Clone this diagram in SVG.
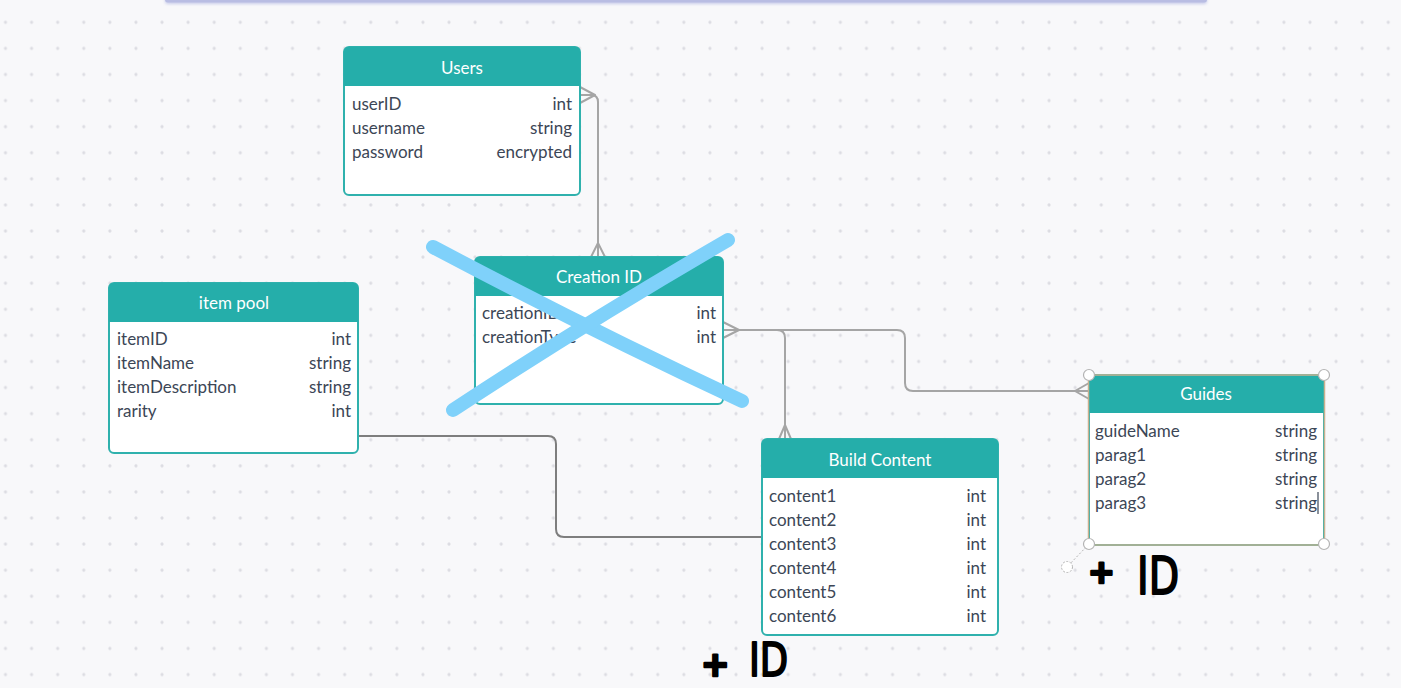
<svg xmlns="http://www.w3.org/2000/svg" width="1401" height="688" viewBox="0 0 1401 688">
  <defs>
    <pattern id="dots" x="5.5" y="22.3" width="26.09" height="26.09" patternUnits="userSpaceOnUse">
      <circle cx="0" cy="0" r="1.6" fill="#dcdce2"/>
      <circle cx="26.09" cy="0" r="1.6" fill="#dcdce2"/>
      <circle cx="0" cy="26.09" r="1.6" fill="#dcdce2"/>
      <circle cx="26.09" cy="26.09" r="1.6" fill="#dcdce2"/>
    </pattern>
    <filter id="barShadow" x="-5%" y="-100%" width="110%" height="400%">
      <feGaussianBlur stdDeviation="1.5"/>
    </filter>
  </defs>
  <style>
    .frame { fill: #ffffff; stroke: #2fb1ad; stroke-width: 2; }
    .head { fill: #25aeaa; }
    .title { font-family: Lato, "Open Sans", sans-serif; font-size: 17px; fill: #ffffff; text-anchor: middle; }
    .field { font-family: Lato, "Open Sans", sans-serif; font-size: 17px; fill: #3c4656; }
    .type { font-family: Lato, "Open Sans", sans-serif; font-size: 17px; fill: #3c4656; text-anchor: end; }
    .link { fill: none; stroke: #a5a5a5; stroke-width: 2; stroke-linejoin: round; }
    .link-dark { fill: none; stroke: #7e7e7e; stroke-width: 2; }
    .handle { fill: #ffffff; stroke: #b4b4b4; stroke-width: 1.2; }
    .plus { font-family: "DejaVu Sans", sans-serif; font-weight: bold; fill: #000000; stroke: #000000; stroke-width: 2.5; stroke-linejoin: round; }
    .ink { font-family: "DejaVu Sans", sans-serif; fill: #000000; stroke: #000000; stroke-width: 2; stroke-linejoin: round; }
    .strike { fill: none; stroke: #7fd1fa; stroke-width: 14; stroke-linecap: round; }
  </style>

  <!-- canvas -->
  <rect width="1401" height="688" fill="#f8f8fa"/>
  <rect width="1401" height="688" fill="url(#dots)"/>

  <!-- toolbar edge at the top -->
  <rect x="165" y="-4" width="1042" height="8" rx="3" fill="#9aa0dc" opacity="0.5" filter="url(#barShadow)"/>
  <rect x="165" y="-4" width="1042" height="6.5" rx="3" fill="#b9bde3"/>

  <!-- connectors -->
  <g id="connectors">
    <!-- Users -> Creation ID -->
    <path class="link" d="M580,87 L595,95 L580,103 M580,95 H591 Q598,95 598,102 V257"/>
    <path class="link" d="M591,257 L598,243 L605,257"/>
    <!-- Creation ID -> Guides -->
    <path class="link" d="M723,322 L739,330 L723,338 M723,330 H897 Q905,330 905,338 V383 Q905,391 913,391 H1089"/>
    <path class="link" d="M1089,383 L1075,391 L1089,399"/>
    <!-- Creation ID -> Build Content -->
    <path class="link" d="M777,330 Q785,330 785,338 V439"/>
    <path class="link" d="M779,439 L785,425 L791,439"/>
    <!-- item pool -> Build Content -->
    <path class="link-dark" d="M358,436 H548 Q556,436 556,444 V529 Q556,537 564,537 H762"/>
  </g>

  <!-- Users -->
  <g id="users">
    <rect class="frame" x="344" y="47" width="236" height="148" rx="5"/>
    <path class="head" d="M344,52 Q344,47 349,47 H575 Q580,47 580,52 V86 H344 Z"/>
    <text class="title" x="462" y="74">Users</text>
    <text class="field" x="352" y="110">userID</text>
    <text class="type" x="572" y="110">int</text>
    <text class="field" x="352" y="134">username</text>
    <text class="type" x="572" y="134">string</text>
    <text class="field" x="352" y="158">password</text>
    <text class="type" x="572" y="158">encrypted</text>
  </g>

  <!-- Creation ID -->
  <g id="creation-id">
    <rect class="frame" x="475" y="257" width="248" height="147" rx="5"/>
    <path class="head" d="M475,262 Q475,257 480,257 H718 Q723,257 723,262 V296 H475 Z"/>
    <text class="title" x="599" y="283">Creation ID</text>
    <text class="field" x="482" y="319">creationID</text>
    <text class="type" x="716" y="319">int</text>
    <text class="field" x="482" y="343">creationType</text>
    <text class="type" x="716" y="343">int</text>
  </g>

  <!-- item pool -->
  <g id="item-pool">
    <rect class="frame" x="109" y="283" width="249" height="170" rx="5"/>
    <path class="head" d="M109,288 Q109,283 114,283 H353 Q358,283 358,288 V322 H109 Z"/>
    <text class="title" x="234" y="309">item pool</text>
    <text class="field" x="117" y="345">itemID</text>
    <text class="type" x="351" y="345">int</text>
    <text class="field" x="117" y="369">itemName</text>
    <text class="type" x="351" y="369">string</text>
    <text class="field" x="117" y="393">itemDescription</text>
    <text class="type" x="351" y="393">string</text>
    <text class="field" x="117" y="417">rarity</text>
    <text class="type" x="351" y="417">int</text>
  </g>

  <!-- Build Content -->
  <g id="build-content">
    <rect class="frame" x="762" y="439" width="236" height="196" rx="5"/>
    <path class="head" d="M762,444 Q762,439 767,439 H993 Q998,439 998,444 V478 H762 Z"/>
    <text class="title" x="880" y="466">Build Content</text>
    <text class="field" x="769" y="502">content1</text>
    <text class="type" x="986" y="502">int</text>
    <text class="field" x="769" y="526">content2</text>
    <text class="type" x="986" y="526">int</text>
    <text class="field" x="769" y="550">content3</text>
    <text class="type" x="986" y="550">int</text>
    <text class="field" x="769" y="574">content4</text>
    <text class="type" x="986" y="574">int</text>
    <text class="field" x="769" y="598">content5</text>
    <text class="type" x="986" y="598">int</text>
    <text class="field" x="769" y="622">content6</text>
    <text class="type" x="986" y="622">int</text>
  </g>

  <!-- Guides (selected) -->
  <g id="guides">
    <rect class="frame" x="1089" y="375" width="235" height="170" rx="2"/>
    <rect x="1089" y="376" width="235" height="37" class="head"/>
    <rect x="1088.5" y="375" width="236" height="170" fill="none" stroke="#c8b08e" stroke-width="1.5"/>
    <text class="title" x="1206" y="400">Guides</text>
    <text class="field" x="1095" y="437">guideName</text>
    <text class="type" x="1317" y="437">string</text>
    <text class="field" x="1095" y="461">parag1</text>
    <text class="type" x="1317" y="461">string</text>
    <text class="field" x="1095" y="485">parag2</text>
    <text class="type" x="1317" y="485">string</text>
    <text class="field" x="1095" y="509">parag3</text>
    <text class="type" x="1317" y="509">string</text>
    <line x1="1318" y1="492" x2="1318" y2="514" stroke="#3c4656" stroke-width="1.2"/>
    <!-- selection handles -->
    <line x1="1089" y1="544" x2="1067" y2="567" stroke="#b4b4b4" stroke-width="1" stroke-dasharray="2,2"/>
    <circle cx="1067" cy="567" r="5.5" fill="#ffffff" stroke="#b4b4b4" stroke-width="1" stroke-dasharray="2,1.5"/>
    <circle class="handle" cx="1089" cy="375" r="5.5"/>
    <circle class="handle" cx="1324" cy="375" r="5.5"/>
    <circle class="handle" cx="1089" cy="544" r="5.5"/>
    <circle class="handle" cx="1324" cy="544" r="5.5"/>
  </g>

  <!-- hand-drawn strike-through over Creation ID -->
  <g id="strike">
    <path class="strike" d="M433,247 Q590,330 742,401"/>
    <path class="strike" d="M728,240 Q590,320 453,410"/>
  </g>

  <!-- hand-written notes -->
  <g id="notes">
    <text class="plus" x="701" y="676" font-size="34">+</text>
    <text class="ink" font-size="46" transform="translate(749,676) scale(0.8,1)">ID</text>
    <text class="plus" x="1088" y="583" font-size="32">+</text>
    <text class="ink" font-size="52" transform="translate(1137,594) scale(0.76,1)">ID</text>
  </g>
</svg>
